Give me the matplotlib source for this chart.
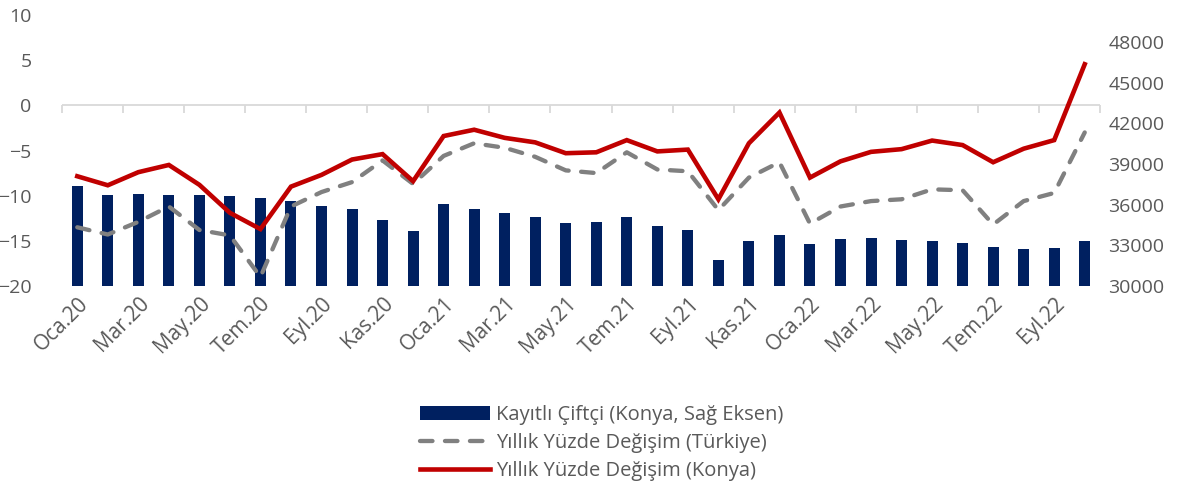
import matplotlib
matplotlib.use("Agg")
import matplotlib.pyplot as plt
import numpy as np

months = ["Oca", "Şub", "Mar", "Nis", "May", "Haz", "Tem", "Ağu", "Eyl", "Eki", "Kas", "Ara"]
categories = [f"{months[i % 12]}.{20 + i // 12}" for i in range(34)]

farmers_konya = [37400, 36700, 36800, 36700, 36700, 36650, 36500, 36300, 35900, 35700,
                 34850, 34050, 36050, 35650, 35400, 35100, 34650, 34700, 35100, 34400,
                 34150, 31900, 33300, 33750, 33100, 33450, 33550, 33400, 33300, 33150,
                 32850, 32700, 32800, 33350]

change_turkiye = [-13.5, -14.3, -12.9, -11.2, -13.8, -14.4, -19.0, -11.2, -9.6, -8.5,
                  -6.1, -8.7, -5.6, -4.2, -4.7, -5.7, -7.2, -7.5, -5.2, -7.1,
                  -7.3, -11.6, -8.0, -6.3, -13.1, -11.2, -10.6, -10.4, -9.3, -9.4,
                  -13.2, -10.6, -9.7, -3.0]

change_konya = [-7.85, -8.85, -7.4, -6.6, -8.8, -11.9, -13.7, -9.0, -7.7, -6.0,
                -5.4, -8.4, -3.4, -2.7, -3.6, -4.1, -5.3, -5.2, -3.85, -5.1,
                -4.9, -10.4, -4.2, -0.8, -8.0, -6.2, -5.15, -4.85, -3.9, -4.4,
                -6.3, -4.8, -3.85, 4.55]

left_ticks = [10, 5, 0, -5, -10, -15, -20]
right_ticks = [30000, 33000, 36000, 39000, 42000, 45000, 48000]

NAVY = "#002060"
RED = "#C00000"
GRAY = "#808080"
TXT = "#595959"

plt.rcParams['font.family'] = ['Open Sans', 'DejaVu Sans']

fig = plt.figure(figsize=(11.94, 4.91), dpi=100)
ax = fig.add_axes([62/1194, 1 - 286/491, (1100 - 62)/1194, (286 - 15)/491])
axr = ax.twinx()
ax.set_zorder(2)
axr.set_zorder(1)
ax.patch.set_visible(False)

x = np.arange(len(categories))
bars = axr.bar(x, farmers_konya, width=0.36, color=NAVY, label="Kayıtlı Çiftçi (Konya, Sağ Eksen)")
axr.set_ylim(30000, 50000)
axr.set_yticks(right_ticks)
axr.set_yticklabels([str(v) for v in right_ticks])

l1, = ax.plot(x, change_turkiye, color=GRAY, lw=3.1, dashes=(2.9, 2.9),
              dash_capstyle='round', label="Yıllık Yüzde Değişim (Türkiye)")
l2, = ax.plot(x, change_konya, color=RED, lw=3.3, solid_joinstyle='miter',
              label="Yıllık Yüzde Değişim (Konya)")
ax.set_ylim(-20, 10)
ax.set_yticks(left_ticks)
ax.set_xlim(-0.5, len(categories) - 0.5)

for a in (ax, axr):
    for s in a.spines.values():
        s.set_visible(False)
    a.tick_params(axis='y', length=0, labelsize=14, colors=TXT)
ax.tick_params(axis='y', pad=22)
axr.tick_params(axis='y', pad=6)

ax.set_xticks(x[::2])
ax.set_xticklabels(categories[::2], rotation=45, ha='right', rotation_mode='anchor',
                   fontsize=15, color=TXT)
ax.tick_params(axis='x', length=0, pad=5)

# zero line with category-boundary tick marks
ax.axhline(0, color="#D9D9D9", lw=1.3, zorder=0)
sec = ax.secondary_xaxis(2/3)
sec.set_xticks(np.arange(-0.5, len(categories), 2))
sec.set_xticklabels([])
sec.tick_params(axis='x', direction='out', length=6, width=1.3, color="#D9D9D9")
for s in sec.spines.values():
    s.set_visible(False)
sec.xaxis.set_ticks_position('bottom')

leg = fig.legend(handles=[bars, l1, l2], loc='upper center', bbox_to_anchor=(0.504, 0.212),
                 ncol=1, frameon=False, fontsize=14.5, handlelength=3.5, handletextpad=0.3,
                 labelspacing=0.4, labelcolor=TXT)

fig.savefig("out.png", dpi=100)
